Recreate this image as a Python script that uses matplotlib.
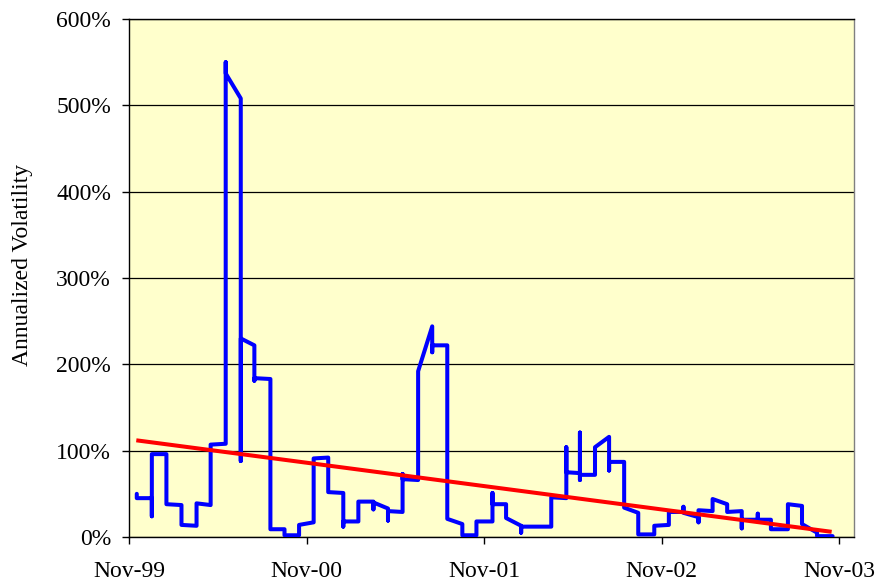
import matplotlib
matplotlib.use('Agg')
import matplotlib.pyplot as plt
import matplotlib.dates as mdates
from matplotlib.ticker import PercentFormatter, MultipleLocator
import pandas as pd

# annualized volatility (%), step series; repeated dates = jumps
vol_dates = [
    '1999-11-17', '1999-11-17',
    '1999-12-18', '1999-12-18', '1999-12-18',
    '2000-01-17', '2000-01-17',
    '2000-02-17', '2000-02-17',
    '2000-03-19', '2000-03-19',
    '2000-04-17', '2000-04-17',
    '2000-05-18', '2000-05-18', '2000-05-18',
    '2000-06-18', '2000-06-18', '2000-06-18',
    '2000-07-16', '2000-07-16', '2000-07-16',
    '2000-08-18', '2000-08-18', '2000-08-18',
    '2000-09-16', '2000-09-16',
    '2000-10-16', '2000-10-16',
    '2000-11-15', '2000-11-15',
    '2000-12-15', '2000-12-15',
    '2001-01-15', '2001-01-15', '2001-01-15',
    '2001-02-15', '2001-02-15',
    '2001-03-18', '2001-03-18', '2001-03-18',
    '2001-04-17', '2001-04-17', '2001-04-17',
    '2001-05-17', '2001-05-17', '2001-05-17',
    '2001-06-18', '2001-06-18',
    '2001-07-17', '2001-07-17', '2001-07-17',
    '2001-08-17', '2001-08-17',
    '2001-09-17', '2001-09-17',
    '2001-10-16', '2001-10-16',
    '2001-11-18', '2001-11-18', '2001-11-18',
    '2001-12-16', '2001-12-16',
    '2002-01-16', '2002-01-16', '2002-01-16',
    '2002-03-19', '2002-03-19',
    '2002-04-19', '2002-04-19', '2002-04-19',
    '2002-05-17', '2002-05-17', '2002-05-17', '2002-05-17',
    '2002-06-17', '2002-06-17',
    '2002-07-16', '2002-07-16', '2002-07-16',
    '2002-08-16', '2002-08-16',
    '2002-09-14', '2002-09-14',
    '2002-10-17', '2002-10-17',
    '2002-11-16', '2002-11-16',
    '2002-12-16', '2002-12-16', '2002-12-16',
    '2003-01-16', '2003-01-16', '2003-01-16',
    '2003-02-14', '2003-02-14',
    '2003-03-16', '2003-03-16',
    '2003-04-15', '2003-04-15', '2003-04-15',
    '2003-05-18', '2003-05-18', '2003-05-18',
    '2003-06-14', '2003-06-14',
    '2003-07-19', '2003-07-19',
    '2003-08-17', '2003-08-17',
    '2003-09-17', '2003-09-17',
    '2003-10-19',
]
vol_values = [
    50, 45,
    45, 24, 96,
    96, 38,
    37, 14,
    13, 39,
    37, 107,
    108, 550, 537,
    508, 88, 230,
    222, 181, 184,
    183, 21, 9,
    9, 2,
    2, 14,
    17, 91,
    92, 52,
    51, 12, 18,
    18, 41,
    41, 32, 40,
    33, 19, 30,
    29, 73, 67,
    66, 192,
    244, 214, 222,
    222, 21,
    15, 2,
    2, 18,
    18, 51, 38,
    38, 22,
    13, 5, 12,
    12, 46,
    45, 104, 75,
    74, 121, 66, 72,
    72, 104,
    116, 77, 87,
    87, 34,
    28, 3,
    3, 13,
    14, 29,
    29, 35, 28,
    23, 17, 31,
    30, 44,
    38, 29,
    30, 10, 20,
    20, 27, 20,
    20, 9,
    9, 38,
    36, 15,
    5, 1,
    1,
]

# linear trend line end points
trend_dates = ['1999-11-16', '2003-10-17']
trend_values = [112, 6]

tick_dates = ['1999-11-01', '2000-11-01', '2001-11-01', '2002-11-01', '2003-11-01']

plt.rcParams['font.family'] = ['Liberation Serif', 'DejaVu Serif']

fig = plt.figure(figsize=(8.84, 5.84), dpi=100)
ax = fig.add_axes([129 / 884, 1 - 537 / 584, 725 / 884, 518 / 584])
ax.set_facecolor('#FFFFCC')

ax.plot(pd.to_datetime(vol_dates), vol_values, color='#0000FF', lw=2.9,
        solid_joinstyle='round', solid_capstyle='round', zorder=3)
ax.plot(pd.to_datetime(trend_dates), trend_values, color='#FF0000', lw=2.9,
        solid_capstyle='butt', zorder=4)

ax.set_ylim(0, 600)
ax.yaxis.set_major_locator(MultipleLocator(100))
ax.yaxis.set_major_formatter(PercentFormatter(xmax=100, decimals=0))
ax.grid(axis='y', color='black', lw=0.9)
ax.set_axisbelow(True)

ax.set_xlim(pd.Timestamp('1999-11-01'), pd.Timestamp('2003-12-02'))
ax.set_xticks(pd.to_datetime(tick_dates))
ax.xaxis.set_major_formatter(mdates.DateFormatter('%b-%y'))

ax.tick_params(axis='both', direction='out', length=5, width=1, color='black',
               labelsize=17)
ax.tick_params(axis='y', pad=8)
ax.tick_params(axis='x', pad=12)

for s in ['left', 'bottom', 'top']:
    ax.spines[s].set_color('black')
    ax.spines[s].set_linewidth(1)
ax.spines['right'].set_color('#808080')
ax.spines['right'].set_linewidth(1)

ax.set_ylabel('Annualized Volatility', fontsize=17)
ax.yaxis.set_label_coords(-0.132, 0.526)

fig.savefig('out.png', dpi=100)
